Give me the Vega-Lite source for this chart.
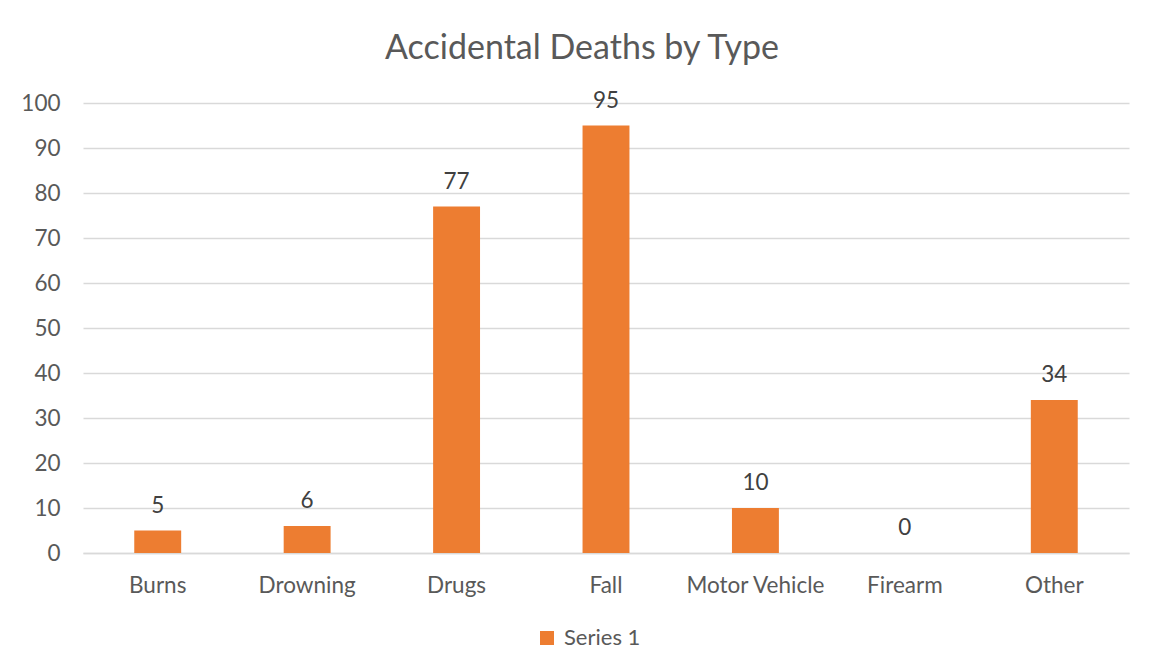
{
  "$schema": "https://vega.github.io/schema/vega-lite/v6.json",
  "width": 1046,
  "height": 450,
  "autosize": "none",
  "padding": {"left": 83, "top": 103, "right": 28, "bottom": 119},
  "background": "white",
  "title": {
    "text": "Accidental Deaths by Type",
    "font": "Lato",
    "fontSize": 34,
    "fontWeight": "normal",
    "color": "#595959",
    "anchor": "middle",
    "frame": "group",
    "dx": -24,
    "offset": -3,
    "baseline": "alphabetic"
  },
  "data": {
    "values": [
      {"category": "Burns", "value": 5, "series": "Series 1"},
      {"category": "Drowning", "value": 6, "series": "Series 1"},
      {"category": "Drugs", "value": 77, "series": "Series 1"},
      {"category": "Fall", "value": 95, "series": "Series 1"},
      {"category": "Motor Vehicle", "value": 10, "series": "Series 1"},
      {"category": "Firearm", "value": 0, "series": "Series 1"},
      {"category": "Other", "value": 34, "series": "Series 1"}
    ]
  },
  "encoding": {
    "x": {
      "field": "category",
      "type": "nominal",
      "sort": null,
      "scale": {"paddingInner": 0.686, "paddingOuter": 0.343},
      "axis": {"title": null, "labelAngle": 0, "ticks": false, "domain": true, "domainColor": "#d9d9d9", "domainWidth": 1.5, "labelPadding": 21, "grid": false}
    },
    "y": {
      "field": "value",
      "type": "quantitative",
      "scale": {"domain": [0, 100]},
      "axis": {"title": null, "values": [0, 10, 20, 30, 40, 50, 60, 70, 80, 90, 100], "ticks": false, "domain": false, "labelPadding": 23, "gridColor": "#d9d9d9", "gridWidth": 1.3}
    }
  },
  "layer": [
    {
      "mark": {"type": "bar"},
      "encoding": {
        "color": {
          "field": "series",
          "type": "nominal",
          "scale": {"range": ["#ED7D31"]},
          "legend": {"orient": "none", "legendX": 453, "legendY": 524, "direction": "horizontal", "title": null, "symbolType": "square", "symbolSize": 196, "symbolStrokeWidth": 0, "labelFont": "Lato", "labelFontSize": 22, "labelColor": "#595959", "labelOffset": 6}
        }
      }
    },
    {
      "mark": {"type": "text", "baseline": "alphabetic", "dy": -18, "font": "Lato", "fontSize": 22.5, "color": "#404040"},
      "encoding": {"text": {"field": "value", "type": "quantitative"}}
    }
  ],
  "config": {
    "view": {"stroke": null},
    "axis": {"labelFont": "Lato", "labelFontSize": 22.5, "labelColor": "#595959"}
  }
}
